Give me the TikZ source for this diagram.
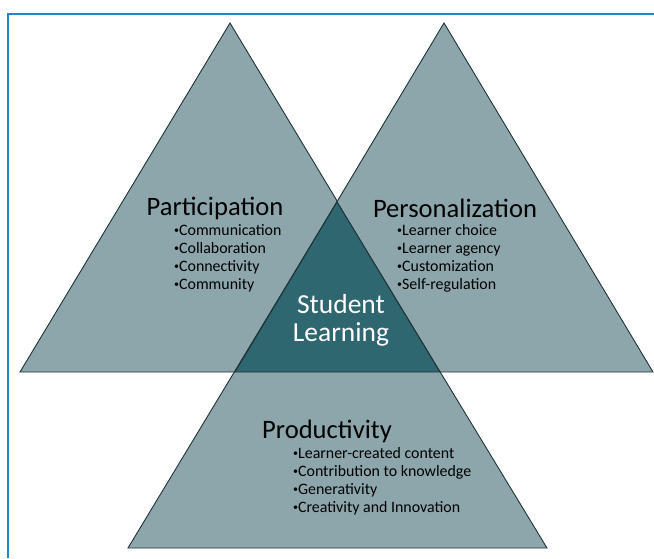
\documentclass[tikz,border=0pt]{standalone}
\usepackage{fontspec}
\setmainfont{Carlito}
\usetikzlibrary{positioning}
\definecolor{slate}{HTML}{8CA6AB}
\definecolor{core}{HTML}{2E6770}
\definecolor{rimline}{HTML}{1E3338}
\definecolor{bluerule}{HTML}{1A8AC6}
\newcommand{\dotmark}{\raisebox{0.12em}{\fontsize{10}{10}\selectfont •}}

\begin{document}
\begin{tikzpicture}[
  x=1pt, y=-1pt,
  tri/.style={fill=slate, draw=rimline, line width=0.9pt, line join=miter},
  head/.style={font=\fontsize{26.6}{28}\selectfont, inner sep=0pt},
  items/.style={font=\fontsize{15.9}{18}\selectfont, align=left, inner sep=0pt,
                anchor=north west}
]
  \useasboundingbox (0,0) rectangle (654,558);
  \draw[bluerule, line width=2pt] (8,558) -- (8,14) -- (654,14);

  % corners of the three triangles
  \coordinate (lefttop) at (230,23);
  \coordinate (leftA) at (20,372);
  \coordinate (leftB) at (440,372);
  \coordinate (righttop) at (444,23);
  \coordinate (rightA) at (235,372);
  \coordinate (rightB) at (653,372);
  \coordinate (lowtop) at (337,202);
  \coordinate (lowA) at (128,548);
  \coordinate (lowB) at (547,548);

  \draw[tri] (lefttop) -- (leftA) -- (leftB) -- cycle;
  \draw[tri] (righttop) -- (rightA) -- (rightB) -- cycle;
  \draw[tri] (lowtop) -- (lowA) -- (lowB) -- cycle;
  \draw[tri, fill=core] (lowtop) -- (rightA) -- (leftB) -- cycle;

  % Participation
  \node[head] (part) at (215,208) {Participation};
  \node[items] (partlist) at (174,224)
    {\dotmark Communication\\\dotmark Collaboration\\\dotmark Connectivity\\\dotmark Community};

  % Personalization
  \node[head] (pers) at (455,208) {Personalization};
  \node[items] (perslist) at (397,224)
    {\dotmark Learner choice\\\dotmark Learner agency\\\dotmark Customization\\\dotmark Self-regulation};

  % Student Learning
  \node[head, white, align=center, font=\fontsize{27.5}{28}\selectfont]
    (core) at (341,320) {Student\\Learning};

  % Productivity
  \node[head] (prod) at (327,431) {Productivity};
  \node[items] (prodlist) at (293,447)
    {\dotmark Learner-created content\\\dotmark Contribution to knowledge\\\dotmark Generativity\\\dotmark Creativity and Innovation};
\end{tikzpicture}
\end{document}
